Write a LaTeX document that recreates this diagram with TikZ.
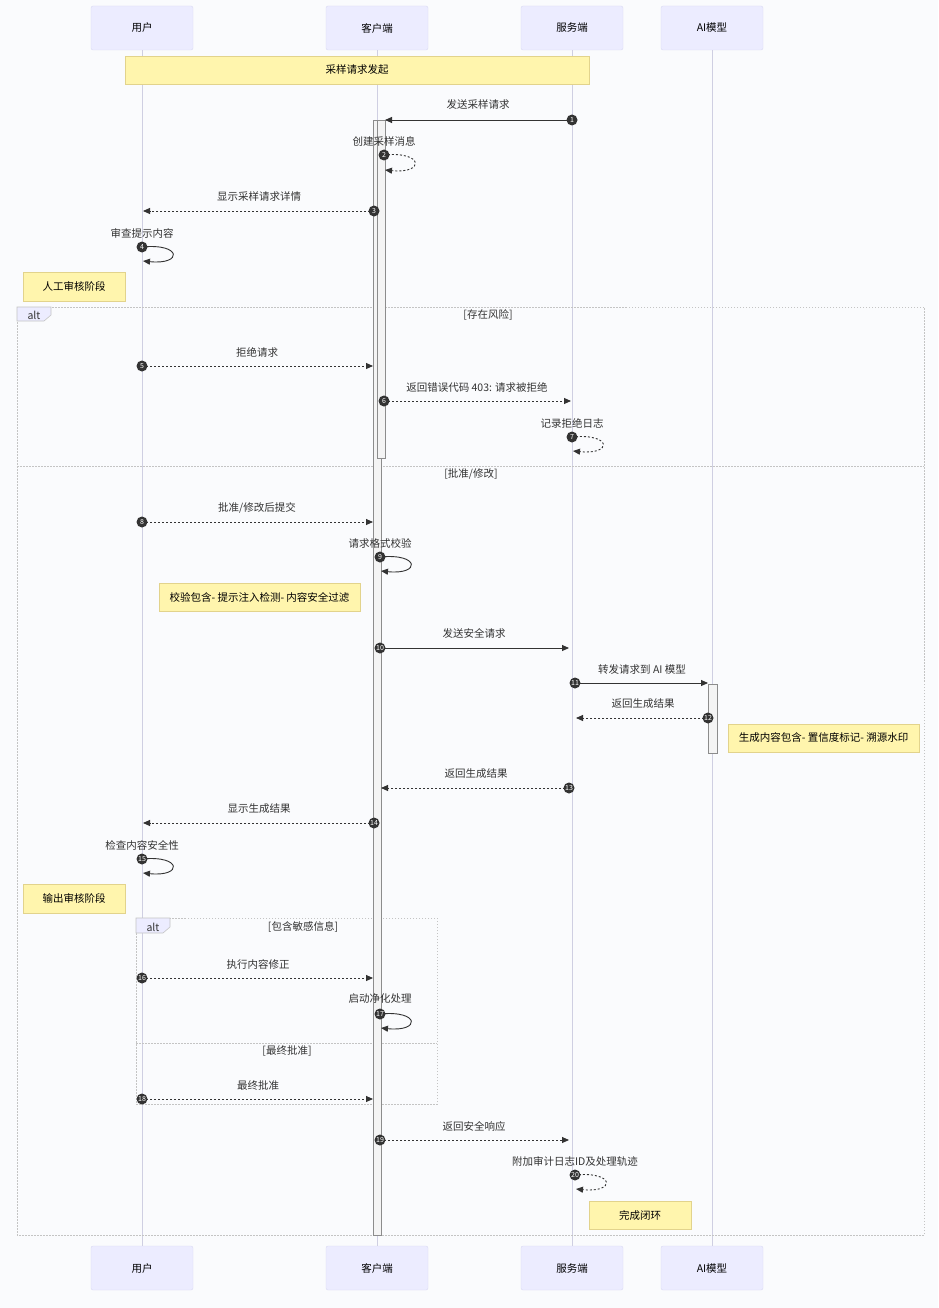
\documentclass[tikz,border=0pt]{standalone}
\usepackage{fontspec}
\setmainfont{Noto Sans CJK SC}
\usetikzlibrary{arrows.meta}
\definecolor{bgcol}{HTML}{FAFBFD}
\definecolor{actfill}{HTML}{ECECFF}
\definecolor{actline}{HTML}{D9D9F2}
\definecolor{lifecol}{HTML}{CFCFE2}
\definecolor{notefill}{HTML}{FFF5AD}
\definecolor{noteline}{HTML}{E2D38C}
\definecolor{inkcol}{HTML}{333333}
\definecolor{framecol}{HTML}{C4C4C4}
\definecolor{barfill}{HTML}{F4F4F4}
\tikzset{
  actor/.style={draw=actline, fill=actfill, rounded corners=2pt, minimum width=102pt, minimum height=44pt, inner sep=0pt, font=\fontsize{10.5}{12}\selectfont, text=black},
  life/.style={draw=lifecol, line width=1pt},
  note/.style={draw=noteline, fill=notefill, inner sep=0pt, font=\fontsize{10.5}{12}\selectfont, text=black},
  lbl/.style={font=\fontsize{10.5}{12}\selectfont, text=inkcol, inner sep=0pt, yshift=-1pt},
  cond/.style={font=\fontsize{10.5}{12}\selectfont, text=inkcol, inner sep=0pt, yshift=-1pt},
  msg/.style={draw=inkcol, line width=0.9pt, -{Triangle[length=7pt,width=6pt]}},
  rmsg/.style={msg, dash pattern=on 2pt off 2pt},
  numdot/.style={circle, fill=inkcol, text=white, inner sep=0pt, minimum size=11pt, font=\fontsize{7}{7}\selectfont},
  frame/.style={draw=framecol, line width=0.8pt, dash pattern=on 1.5pt off 1.5pt},
  bar/.style={draw=black!45, fill=barfill, line width=0.8pt},
}
\begin{document}
\begin{tikzpicture}[x=1pt, y=-1pt]
			%%%%% START %%%%%
			
			\fill[bgcol] (0,0) rectangle (938,1308);
			\useasboundingbox (0,0) rectangle (938,1308);
			
			% actors
			\node[actor] (userT) at (142,28) {用户};
			\node[actor] (clientT) at (377,28) {客户端};
			\node[actor] (serverT) at (572,28) {服务端};
			\node[actor] (aiT) at (712,28) {AI模型};
			\node[actor] (userB) at (142,1268) {用户};
			\node[actor] (clientB) at (377,1268) {客户端};
			\node[actor] (serverB) at (572,1268) {服务端};
			\node[actor] (aiB) at (712,1268) {AI模型};
			
			\draw[life] (userT) -- (userB);
			\draw[life] (clientT) -- (clientB);
			\draw[life] (serverT) -- (serverB);
			\draw[life] (aiT) -- (aiB);
			
			% alt frames
			\draw[frame] (17,307) rectangle (924,1235);
			\draw[frame] (17,466) -- (924,466);
			\draw[draw=framecol, fill=actfill, line width=0.6pt] (17,307) -- (51,307) -- (51,315) -- (44,321) -- (17,321) -- cycle;
			\node[lbl] (alt1) at (34,314.5) {alt};
			\node[cond] (c1) at (488,314) {[存在风险]};
			\node[cond] (c2) at (471,473) {[批准/修改]};
			
			\draw[frame] (136,918) rectangle (437,1104);
			\draw[frame] (136,1043) -- (437,1043);
			\draw[draw=framecol, fill=actfill, line width=0.6pt] (136,918) -- (170,918) -- (170,927) -- (163,933) -- (136,933) -- cycle;
			\node[lbl] (alt2) at (153,926.5) {alt};
			\node[cond] (c3) at (303,926) {[包含敏感信息]};
			\node[cond] (c4) at (287,1050) {[最终批准]};
			
			% activations
			\draw[bar] (373,120) rectangle (381,1235);
			\draw[bar] (377,120) rectangle (385,458);
			\draw[bar] (708,684) rectangle (717,753);
			
			% notes
			\node[note, minimum width=464pt, minimum height=28pt] (n0) at (357,70) {采样请求发起};
			\node[note, minimum width=102pt, minimum height=29pt] (n1) at (74,286.5) {人工审核阶段};
			\node[note, minimum width=201pt, minimum height=28pt] (n2) at (259.5,597) {校验包含- 提示注入检测- 内容安全过滤};
			\node[note, minimum width=191pt, minimum height=28pt] (n3) at (823.5,738) {生成内容包含- 置信度标记- 溯源水印};
			\node[note, minimum width=102pt, minimum height=29pt] (n4) at (74,898.5) {输出审核阶段};
			\node[note, minimum width=102pt, minimum height=28pt] (n5) at (640,1215) {完成闭环};
			
			% message ends
			\coordinate (s1) at (572,120);  \coordinate (e1) at (385,120);
			\coordinate (s2) at (384,155);  \coordinate (e2) at (385,170);
			\coordinate (s3) at (374,211);  \coordinate (e3) at (143,211);
			\coordinate (s4) at (142,247);  \coordinate (e4) at (143,261);
			\coordinate (s5) at (142,366);  \coordinate (e5) at (373,366);
			\coordinate (s6) at (384,401);  \coordinate (e6) at (571,401);
			\coordinate (s7) at (572,437);  \coordinate (e7) at (573,451);
			\coordinate (s8) at (142,522);  \coordinate (e8) at (373,522);
			\coordinate (s9) at (380,557);  \coordinate (e9) at (381,571);
			\coordinate (s10) at (380,648); \coordinate (e10) at (569,648);
			\coordinate (s11) at (575,683); \coordinate (e11) at (708,683);
			\coordinate (s12) at (708,718); \coordinate (e12) at (576,718);
			\coordinate (s13) at (569,788); \coordinate (e13) at (381,788);
			\coordinate (s14) at (374,823); \coordinate (e14) at (143,823);
			\coordinate (s15) at (142,859); \coordinate (e15) at (143,873);
			\coordinate (s16) at (142,978); \coordinate (e16) at (373,978);
			\coordinate (s17) at (380,1014); \coordinate (e17) at (381,1028);
			\coordinate (s18) at (142,1099); \coordinate (e18) at (373,1099);
			\coordinate (s19) at (380,1140); \coordinate (e19) at (569,1140);
			\coordinate (s20) at (575,1175); \coordinate (e20) at (576,1189);
			
			% messages
			\draw[msg] (s1) -- (e1);
			\draw[rmsg] (s2) .. controls +(40,-4) and +(40,4) .. (e2);
			\draw[rmsg] (s3) -- (e3);
			\draw[msg] (s4) .. controls +(40,-4) and +(40,4) .. (e4);
			\draw[rmsg] (s5) -- (e5);
			\draw[rmsg] (s6) -- (e6);
			\draw[rmsg] (s7) .. controls +(40,-4) and +(40,4) .. (e7);
			\draw[rmsg] (s8) -- (e8);
			\draw[msg] (s9) .. controls +(40,-4) and +(40,4) .. (e9);
			\draw[msg] (s10) -- (e10);
			\draw[msg] (s11) -- (e11);
			\draw[rmsg] (s12) -- (e12);
			\draw[rmsg] (s13) -- (e13);
			\draw[rmsg] (s14) -- (e14);
			\draw[msg] (s15) .. controls +(40,-4) and +(40,4) .. (e15);
			\draw[rmsg] (s16) -- (e16);
			\draw[msg] (s17) .. controls +(40,-4) and +(40,4) .. (e17);
			\draw[rmsg] (s18) -- (e18);
			\draw[rmsg] (s19) -- (e19);
			\draw[rmsg] (s20) .. controls +(40,-4) and +(40,4) .. (e20);
			
			% labels
			\node[lbl] (l1) at (478,104) {发送采样请求};
			\node[lbl] (l2) at (384,140) {创建采样消息};
			\node[lbl] (l3) at (259,196) {显示采样请求详情};
			\node[lbl] (l4) at (142,232) {审查提示内容};
			\node[lbl] (l5) at (257,351) {拒绝请求};
			\node[lbl] (l6) at (477,386) {返回错误代码 403: 请求被拒绝};
			\node[lbl] (l7) at (572,422) {记录拒绝日志};
			\node[lbl] (l8) at (257,507) {批准/修改后提交};
			\node[lbl] (l9) at (380,542) {请求格式校验};
			\node[lbl] (l10) at (474,632) {发送安全请求};
			\node[lbl] (l11) at (642,668) {转发请求到 AI 模型};
			\node[lbl] (l12) at (643,703) {返回生成结果};
			\node[lbl] (l13) at (476,773) {返回生成结果};
			\node[lbl] (l14) at (259,808) {显示生成结果};
			\node[lbl] (l15) at (142,844) {检查内容安全性};
			\node[lbl] (l16) at (258,963) {执行内容修正};
			\node[lbl] (l17) at (380,998) {启动净化处理};
			\node[lbl] (l18) at (258,1084) {最终批准};
			\node[lbl] (l19) at (474,1125) {返回安全响应};
			\node[lbl] (l20) at (575,1160) {附加审计日志ID及处理轨迹};
			
			% numbers
			\node[numdot] (d1) at (s1) {1};
			\node[numdot] (d2) at (s2) {2};
			\node[numdot] (d3) at (s3) {3};
			\node[numdot] (d4) at (s4) {4};
			\node[numdot] (d5) at (s5) {5};
			\node[numdot] (d6) at (s6) {6};
			\node[numdot] (d7) at (s7) {7};
			\node[numdot] (d8) at (s8) {8};
			\node[numdot] (d9) at (s9) {9};
			\node[numdot] (d10) at (s10) {10};
			\node[numdot] (d11) at (s11) {11};
			\node[numdot] (d12) at (s12) {12};
			\node[numdot] (d13) at (s13) {13};
			\node[numdot] (d14) at (s14) {14};
			\node[numdot] (d15) at (s15) {15};
			\node[numdot] (d16) at (s16) {16};
			\node[numdot] (d17) at (s17) {17};
			\node[numdot] (d18) at (s18) {18};
			\node[numdot] (d19) at (s19) {19};
			\node[numdot] (d20) at (s20) {20};
			
			%%%%% END %%%%%
\end{tikzpicture}
\end{document}
